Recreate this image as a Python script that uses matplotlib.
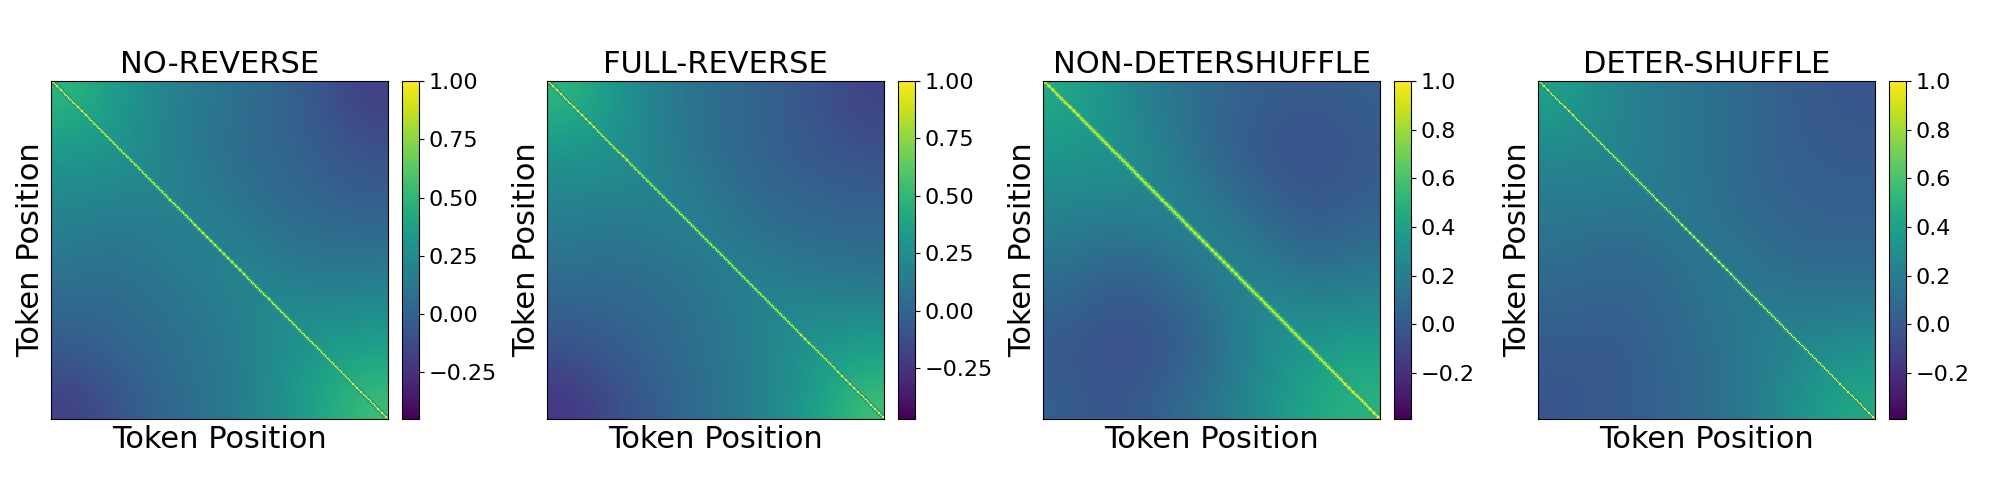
import numpy as np
import matplotlib
matplotlib.use("Agg")
import matplotlib.pyplot as plt

# -------------------------------------
# Data (coarse 8x8 similarity grids)
# -------------------------------------

titles = ["NO-REVERSE", "FULL-REVERSE", "NON-DETERSHUFFLE", "DETER-SHUFFLE"]
seq_len = 256

no_reverse = [
    [0.50, 0.35, 0.22, 0.14, 0.08, 0.02, -0.08, -0.18],
    [0.35, 0.32, 0.22, 0.12, 0.06, 0.02, -0.04, -0.10],
    [0.25, 0.22, 0.22, 0.16, 0.08, 0.04, 0.00, -0.04],
    [0.18, 0.14, 0.16, 0.20, 0.14, 0.08, 0.05, 0.04],
    [0.10, 0.08, 0.12, 0.16, 0.22, 0.16, 0.12, 0.14],
    [0.03, 0.04, 0.08, 0.12, 0.18, 0.26, 0.24, 0.26],
    [-0.05, 0.00, 0.05, 0.10, 0.16, 0.26, 0.36, 0.40],
    [-0.18, -0.08, 0.02, 0.08, 0.16, 0.28, 0.42, 0.55],
]
full_reverse = [
    [0.50, 0.32, 0.18, 0.08, 0.02, -0.03, -0.10, -0.18],
    [0.32, 0.30, 0.20, 0.08, 0.02, -0.03, -0.08, -0.12],
    [0.22, 0.20, 0.20, 0.13, 0.05, 0.00, -0.02, -0.05],
    [0.14, 0.12, 0.13, 0.18, 0.10, 0.05, 0.03, 0.02],
    [0.06, 0.05, 0.07, 0.10, 0.18, 0.13, 0.10, 0.08],
    [-0.02, 0.00, 0.03, 0.07, 0.14, 0.22, 0.22, 0.22],
    [-0.12, -0.06, 0.00, 0.06, 0.12, 0.22, 0.33, 0.38],
    [-0.24, -0.14, -0.04, 0.04, 0.12, 0.22, 0.38, 0.55],
]
non_detershuffle = [
    [0.45, 0.33, 0.20, 0.12, 0.05, 0.02, 0.00, 0.03],
    [0.36, 0.33, 0.25, 0.12, 0.04, -0.03, -0.06, 0.00],
    [0.28, 0.27, 0.27, 0.18, 0.08, 0.02, -0.03, 0.02],
    [0.20, 0.16, 0.18, 0.25, 0.16, 0.08, 0.02, 0.07],
    [0.12, 0.06, 0.06, 0.14, 0.25, 0.18, 0.12, 0.17],
    [0.05, -0.02, 0.00, 0.06, 0.18, 0.30, 0.25, 0.28],
    [0.00, -0.06, -0.04, 0.04, 0.16, 0.30, 0.38, 0.42],
    [0.03, -0.03, 0.02, 0.10, 0.20, 0.33, 0.45, 0.50],
]
deter_shuffle = [
    [0.40, 0.28, 0.20, 0.15, 0.10, 0.05, 0.00, -0.02],
    [0.28, 0.26, 0.20, 0.15, 0.10, 0.05, 0.02, 0.00],
    [0.20, 0.20, 0.20, 0.15, 0.10, 0.05, 0.03, 0.03],
    [0.15, 0.12, 0.12, 0.18, 0.12, 0.08, 0.05, 0.05],
    [0.10, 0.07, 0.07, 0.12, 0.18, 0.12, 0.10, 0.10],
    [0.05, 0.03, 0.05, 0.10, 0.15, 0.20, 0.18, 0.20],
    [0.00, 0.00, 0.03, 0.08, 0.13, 0.20, 0.28, 0.32],
    [-0.02, 0.00, 0.03, 0.08, 0.13, 0.23, 0.35, 0.45],
]
grids = [no_reverse, full_reverse, non_detershuffle, deter_shuffle]

# similarity right next to the diagonal, by offset |i - j|
diag_bands = [
    [1.0, 0.50, 0.35],
    [1.0, 0.48, 0.33],
    [1.0, 0.72, 0.54, 0.42],
    [1.0, 0.45, 0.32],
]

# colour range and ticks of each colorbar
vmins = [-0.45, -0.47, -0.39, -0.39]
vmaxs = [1.0, 1.0, 1.0, 1.0]
cbar_ticks = [
    [-0.25, 0.0, 0.25, 0.5, 0.75, 1.0],
    [-0.25, 0.0, 0.25, 0.5, 0.75, 1.0],
    [-0.2, 0.0, 0.2, 0.4, 0.6, 0.8, 1.0],
    [-0.2, 0.0, 0.2, 0.4, 0.6, 0.8, 1.0],
]

# -------------------------------------
# Plot
# -------------------------------------

W, H = 2000, 500
fig = plt.figure(figsize=(20, 5), dpi=100)

lefts = [51, 547, 1043, 1538]
ax_w, ax_top, ax_h = 337, 81, 338
cb_pad, cb_w = 14, 17

offset = np.abs(np.subtract.outer(np.arange(seq_len), np.arange(seq_len)))

for k in range(4):
    left = lefts[k]
    ax = fig.add_axes([left / W, (H - ax_top - ax_h) / H, ax_w / W, ax_h / H])
    cax = fig.add_axes([(left + ax_w + cb_pad) / W, (H - ax_top - ax_h) / H, cb_w / W, ax_h / H])

    grid = np.array(grids[k])
    im = ax.imshow(grid, cmap="viridis", vmin=vmins[k], vmax=vmaxs[k],
                   extent=(0, seq_len, seq_len, 0), interpolation="bicubic", aspect="auto")

    band = np.array(diag_bands[k])
    band_vals = band[np.minimum(offset, len(band) - 1)]
    band_img = np.ma.masked_where(offset >= len(band), band_vals)
    ax.imshow(band_img, cmap="viridis", vmin=vmins[k], vmax=vmaxs[k],
              extent=(0, seq_len, seq_len, 0), interpolation="nearest", aspect="auto")

    ax.set_xlim(0, seq_len)
    ax.set_ylim(seq_len, 0)
    ax.set_xticks([])
    ax.set_yticks([])
    ax.set_title(titles[k], fontsize=22)
    ax.set_xlabel("Token Position", fontsize=22)
    ax.set_ylabel("Token Position", fontsize=22)

    cb = fig.colorbar(im, cax=cax, ticks=cbar_ticks[k])
    cb.ax.tick_params(labelsize=16)
    cb.outline.set_linewidth(0.8)

fig.savefig("out.png", dpi=100)
plt.close(fig)
